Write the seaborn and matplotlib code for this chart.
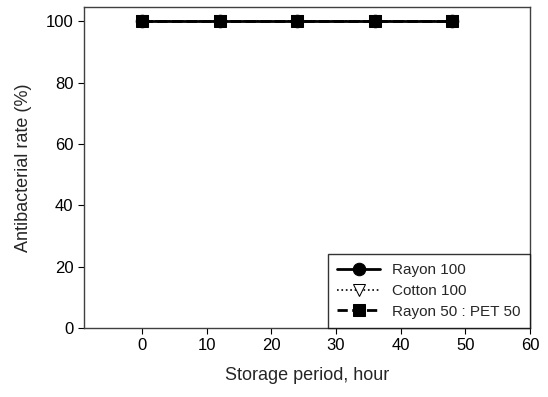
import matplotlib
matplotlib.use("Agg")
import matplotlib.pyplot as plt
import seaborn as sns
import pandas as pd

hours = [0, 12, 24, 36, 48]
rayon100 = [100, 100, 100, 100, 100]
cotton100 = [100, 100, 100, 100, 100]
rayon_pet = [100, 100, 100, 100, 100]

sns.set_style("ticks")
plt.rcParams['font.family'] = ['Liberation Sans', 'DejaVu Sans']

fig = plt.figure(figsize=(5.48, 3.97), dpi=100)
ax = fig.add_axes([0.153, 0.174, 0.814, 0.808])

sns.lineplot(x=hours, y=rayon100, ax=ax, color='black', linewidth=2, linestyle='-',
             marker='o', markersize=9, markeredgecolor='black', label='Rayon 100')
sns.lineplot(x=hours, y=cotton100, ax=ax, color='black', linewidth=1.2, linestyle=':',
             marker='v', markersize=8, markerfacecolor='white', markeredgecolor='black',
             label='Cotton 100')
sns.lineplot(x=hours, y=rayon_pet, ax=ax, color='black', linewidth=2, linestyle='--',
             marker='s', markersize=8, markeredgecolor='black', label='Rayon 50 : PET 50')

ax.set_xlim(-9, 60)
ax.set_ylim(0, 104.6)
ax.set_xticks([0, 10, 20, 30, 40, 50, 60])
ax.set_yticks([0, 20, 40, 60, 80, 100])
ax.tick_params(axis='both', labelsize=12, direction='out', length=4, colors='black')
for s in ax.spines.values():
    s.set_color('#404040')
    s.set_linewidth(1)
ax.set_xlabel('Storage period, hour', fontsize=13, labelpad=10)
ax.set_ylabel('Antibacterial rate (%)', fontsize=13, labelpad=10)

leg = ax.legend(loc='lower right', fontsize=11, frameon=True, fancybox=False,
                borderaxespad=0, handlelength=2.8, handletextpad=0.8, edgecolor='black',
                labelspacing=0.45, borderpad=0.6)
leg.get_frame().set_linewidth(1)

fig.savefig('out.png', dpi=100)
